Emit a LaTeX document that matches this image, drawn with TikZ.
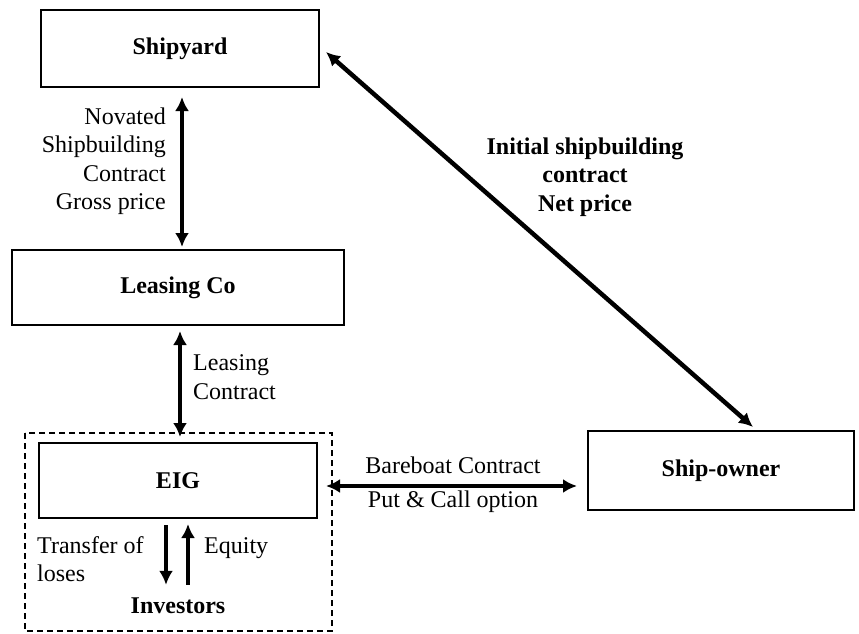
\documentclass[tikz,border=0pt]{standalone}
\usepackage{fontspec}
\setmainfont{Liberation Serif}
\usetikzlibrary{arrows.meta}
\newcommand{\lblsize}{\fontsize{24}{28.5}\selectfont}
\tikzset{
  party/.style={draw, line width=2pt, inner sep=0pt, font=\lblsize\bfseries},
  lbl/.style={inner sep=0pt, font=\lblsize},
  arr/.style={line width=4pt, -{Latex[length=14pt,width=14pt]}},
  dblarr/.style={line width=4pt, {Latex[length=14pt,width=14pt]}-{Latex[length=14pt,width=14pt]}},
  grpbox/.style={line width=1.8pt, dash pattern=on 6pt off 4pt},
}

\begin{document}
\begin{tikzpicture}[x=1pt,y=-1pt]
  \useasboundingbox (0,0) rectangle (859,634);
  % parties
  \node[party, minimum width=278pt, minimum height=77pt] (shipyard) at (180,48.5) {Shipyard};
  \node[party, minimum width=332pt, minimum height=75pt] (leasing) at (178,287.5) {Leasing Co};
  \node[party, minimum width=278pt, minimum height=75pt] (eig) at (178,480.5) {EIG};
  \node[party, minimum width=266pt, minimum height=79pt] (owner) at (721,470.5) {Ship-owner};
  \node[lbl, font=\lblsize\bfseries] (inv) at (178,606) {Investors};
  \draw[grpbox] (25,433) rectangle (332,631);

  % contracts
  \draw[dblarr] ([xshift=2pt,yshift=-9pt]shipyard.south) -- ([xshift=4pt,yshift=2pt]leasing.north);
  \draw[dblarr] ([xshift=2pt,yshift=-5pt]leasing.south) -- ([xshift=2pt,yshift=5pt]eig.north);
  \draw[dblarr] ([xshift=8pt,yshift=-5.5pt]eig.east) -- ([xshift=-10pt,yshift=-5.5pt]eig.east -| owner.west);
  \draw[dblarr, line width=4.5pt] ([xshift=6pt,yshift=-3.5pt]shipyard.east) -- ([xshift=32pt,yshift=3pt]owner.north);
  \draw[arr] ([xshift=-12pt,yshift=-6pt]eig.south) -- ([xshift=-12pt,yshift=13pt]eig.south |- inv.north);
  \draw[arr] ([xshift=10pt,yshift=13pt]eig.south |- inv.north) -- ([xshift=10pt,yshift=-5pt]eig.south);

  % labels
  \node[lbl, align=right, anchor=east] (novated) at (166,161) {Novated\\Shipbuilding\\Contract\\Gross price};
  \node[lbl, align=left, anchor=west] (leasecon) at (193,377) {Leasing\\Contract};
  \node[lbl] (bareboat) at (453,465) {Bareboat Contract};
  \node[lbl] (putcall) at (453,502) {Put \& Call option};
  \node[lbl, align=center, font=\lblsize\bfseries] (initial) at (585,177) {Initial shipbuilding\\contract\\Net price};
  \node[lbl, align=left, anchor=west] (losses) at (37,559) {Transfer of\\loses};
  \node[lbl, anchor=west] (equity) at (204,548) {Equity};
\end{tikzpicture}
\end{document}
